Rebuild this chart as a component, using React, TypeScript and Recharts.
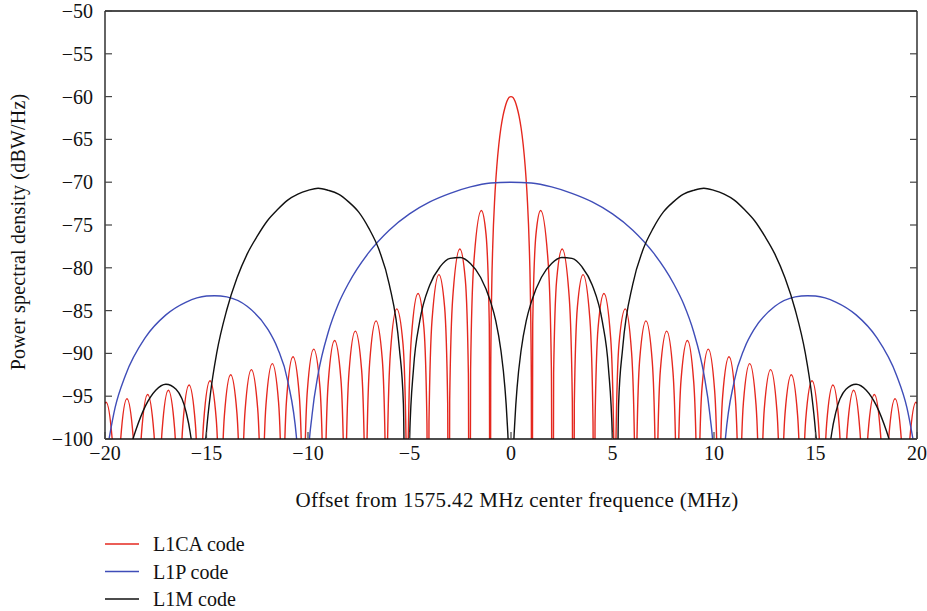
import { LineChart, Line, XAxis, YAxis } from 'recharts'

const X_TICKS = [-20, -15, -10, -5, 0, 5, 10, 15, 20]
const Y_TICKS = [-100, -95, -90, -85, -80, -75, -70, -65, -60, -55, -50]

// [offset MHz, dBW/Hz]. Nulls go below the frame and get clipped.
const L1CA: [number, number][] = [
  [-20.46, -140],
  [-20.41, -112.2], [-20.26, -100.5], [-19.95, -95.7], [-19.64, -100.2], [-19.49, -111.7], [-19.437, -140],
  [-19.38, -111.8], [-19.23, -100.1], [-18.92, -95.3], [-18.61, -99.8], [-18.46, -111.3], [-18.414, -140],
  [-18.36, -111.3], [-18.21, -99.6], [-17.9, -94.8], [-17.59, -99.3], [-17.44, -110.8], [-17.391, -140],
  [-17.34, -110.8], [-17.19, -99.1], [-16.88, -94.3], [-16.57, -98.8], [-16.42, -110.3], [-16.368, -140],
  [-16.32, -110.2], [-16.17, -98.5], [-15.86, -93.7], [-15.55, -98.2], [-15.4, -109.7], [-15.345, -140],
  [-15.29, -109.7], [-15.14, -98.0], [-14.83, -93.2], [-14.52, -97.7], [-14.37, -109.2], [-14.322, -140],
  [-14.27, -109.0], [-14.12, -97.3], [-13.81, -92.5], [-13.5, -97.0], [-13.35, -108.5], [-13.299, -140],
  [-13.25, -108.4], [-13.1, -96.7], [-12.79, -91.9], [-12.48, -96.4], [-12.33, -107.9], [-12.276, -140],
  [-12.22, -107.7], [-12.07, -96.0], [-11.76, -91.2], [-11.45, -95.7], [-11.3, -107.2], [-11.253, -140],
  [-11.2, -106.9], [-11.05, -95.2], [-10.74, -90.4], [-10.43, -94.9], [-10.28, -106.4], [-10.23, -140],
  [-10.18, -106.0], [-10.03, -94.3], [-9.72, -89.5], [-9.41, -94.0], [-9.26, -105.5], [-9.207, -140],
  [-9.15, -105.0], [-9.0, -93.3], [-8.69, -88.5], [-8.38, -93.0], [-8.23, -104.5], [-8.184, -140],
  [-8.13, -103.9], [-7.98, -92.2], [-7.67, -87.4], [-7.36, -91.9], [-7.21, -103.4], [-7.161, -140],
  [-7.11, -102.7], [-6.96, -91.0], [-6.65, -86.2], [-6.34, -90.7], [-6.19, -102.2], [-6.138, -140],
  [-6.09, -101.6], [-5.94, -89.9], [-5.63, -84.8], [-5.32, -88.9], [-5.17, -100.2], [-5.115, -140],
  [-5.06, -99.9], [-4.91, -88.2], [-4.58, -83.0], [-4.29, -87.0], [-4.14, -98.2], [-4.092, -140],
  [-4.04, -98.0], [-3.89, -86.1], [-3.55, -80.8], [-3.27, -84.6], [-3.12, -95.7], [-3.069, -140],
  [-3.02, -95.4], [-2.87, -83.5], [-2.52, -77.8], [-2.25, -81.4], [-2.1, -92.3], [-2.046, -140],
  [-1.99, -91.9], [-1.84, -79.7], [-1.46, -73.3], [-1.23, -76.1], [-1.07, -86.5], [-1.023, -140],
  [-1.0, -92.8], [-0.95, -82.4], [-0.9, -77.5], [-0.8, -71.8], [-0.7, -68.2], [-0.6, -65.6],
  [-0.5, -63.7], [-0.4, -62.3], [-0.3, -61.3], [-0.2, -60.55], [-0.1, -60.1], [0, -60],
  [0.1, -60.1], [0.2, -60.55], [0.3, -61.3], [0.4, -62.3], [0.5, -63.7], [0.6, -65.6],
  [0.7, -68.2], [0.8, -71.8], [0.9, -77.5], [0.95, -82.4], [1.0, -92.8],
  [1.023, -140], [1.07, -86.5], [1.23, -76.1], [1.46, -73.3], [1.84, -79.7], [1.99, -91.9],
  [2.046, -140], [2.1, -92.3], [2.25, -81.4], [2.52, -77.8], [2.87, -83.5], [3.02, -95.4],
  [3.069, -140], [3.12, -95.7], [3.27, -84.6], [3.55, -80.8], [3.89, -86.1], [4.04, -98.0],
  [4.092, -140], [4.14, -98.2], [4.29, -87.0], [4.58, -83.0], [4.91, -88.2], [5.06, -99.9],
  [5.115, -140], [5.17, -100.2], [5.32, -88.9], [5.63, -84.8], [5.94, -89.9], [6.09, -101.6],
  [6.138, -140], [6.19, -102.2], [6.34, -90.7], [6.65, -86.2], [6.96, -91.0], [7.11, -102.7],
  [7.161, -140], [7.21, -103.4], [7.36, -91.9], [7.67, -87.4], [7.98, -92.2], [8.13, -103.9],
  [8.184, -140], [8.23, -104.5], [8.38, -93.0], [8.69, -88.5], [9.0, -93.3], [9.15, -105.0],
  [9.207, -140], [9.26, -105.5], [9.41, -94.0], [9.72, -89.5], [10.03, -94.3], [10.18, -106.0],
  [10.23, -140], [10.28, -106.4], [10.43, -94.9], [10.74, -90.4], [11.05, -95.2], [11.2, -106.9],
  [11.253, -140], [11.3, -107.2], [11.45, -95.7], [11.76, -91.2], [12.07, -96.0], [12.22, -107.7],
  [12.276, -140], [12.33, -107.9], [12.48, -96.4], [12.79, -91.9], [13.1, -96.7], [13.25, -108.4],
  [13.299, -140], [13.35, -108.5], [13.5, -97.0], [13.81, -92.5], [14.12, -97.3], [14.27, -109.0],
  [14.322, -140], [14.37, -109.2], [14.52, -97.7], [14.83, -93.2], [15.14, -98.0], [15.29, -109.7],
  [15.345, -140], [15.4, -109.7], [15.55, -98.2], [15.86, -93.7], [16.17, -98.5], [16.32, -110.2],
  [16.368, -140], [16.42, -110.3], [16.57, -98.8], [16.88, -94.3], [17.19, -99.1], [17.34, -110.8],
  [17.391, -140], [17.44, -110.8], [17.59, -99.3], [17.9, -94.8], [18.21, -99.6], [18.36, -111.3],
  [18.414, -140], [18.46, -111.3], [18.61, -99.8], [18.92, -95.3], [19.23, -100.1], [19.38, -111.8],
  [19.437, -140], [19.49, -111.7], [19.64, -100.2], [19.95, -95.7], [20.26, -100.5], [20.41, -112.2],
  [20.46, -140],
]

const L1P: [number, number][] = [
  [-20, -102.8], [-19.5, -96.3], [-19, -92.6], [-18, -88.1], [-17, -85.5], [-16, -84.0],
  [-15, -83.3], [-14.6, -83.26], [-14, -83.4], [-13, -84.5], [-12, -87.1], [-11.5, -89.4],
  [-11, -93.2], [-10.5, -101.8], [-10.23, -140], [-10, -102.8], [-9.8, -97.2], [-9.5, -92.4],
  [-9, -87.5], [-8.5, -84.2], [-8, -81.8], [-7, -78.2], [-6, -75.6], [-5, -73.7], [-4, -72.3],
  [-3, -71.3], [-2, -70.55], [-1, -70.1], [0, -70],
  [1, -70.1], [2, -70.55], [3, -71.3], [4, -72.3], [5, -73.7], [6, -75.6], [7, -78.2],
  [8, -81.8], [8.5, -84.2], [9, -87.5], [9.5, -92.4], [9.8, -97.2], [10, -102.8], [10.23, -140],
  [10.5, -101.8], [11, -93.2], [11.5, -89.4], [12, -87.1], [13, -84.5], [14, -83.4], [14.6, -83.26],
  [15, -83.3], [16, -84.0], [17, -85.5], [18, -88.1], [19, -92.6], [19.5, -96.3], [20, -102.8],
]

const L1M: [number, number][] = [
  [-20, -123], [-19.5, -108], [-18.7, -100.6], [-18.5, -99.1], [-18, -96.1], [-17.5, -94.3],
  [-17, -93.6], [-16.5, -94.2], [-16, -96.9], [-15.8, -99.3], [-15.6, -103.7], [-15.345, -140],
  [-15.1, -102.4], [-15, -99.1], [-14.8, -94.6], [-14.5, -90.0], [-14, -84.9], [-13.5, -81.2],
  [-13, -78.4], [-12.5, -76.3], [-12, -74.5], [-11.5, -73.2], [-11, -72.1], [-10.5, -71.4],
  [-10, -70.96], [-9.5, -70.7], [-9, -70.95], [-8.5, -71.4], [-8, -72.3], [-7.5, -73.5],
  [-7, -75.4], [-6.5, -77.9], [-6, -81.9], [-5.5, -89.4], [-5.3, -95.9], [-5.115, -140],
  [-5, -100.3], [-4.8, -91.7], [-4.5, -86.3], [-4, -82.0], [-3.5, -79.9], [-3, -78.9],
  [-2.5, -78.8], [-2, -79.5], [-1.5, -81.1], [-1, -84.0], [-0.75, -86.2], [-0.5, -89.6],
  [-0.3, -94.0], [-0.2, -97.5], [-0.1, -103.5], [0, -140],
  [0.1, -103.5], [0.2, -97.5], [0.3, -94.0], [0.5, -89.6], [0.75, -86.2], [1, -84.0],
  [1.5, -81.1], [2, -79.5], [2.5, -78.8], [3, -78.9], [3.5, -79.9], [4, -82.0], [4.5, -86.3],
  [4.8, -91.7], [5, -100.3], [5.115, -140], [5.3, -95.9], [5.5, -89.4], [6, -81.9], [6.5, -77.9],
  [7, -75.4], [7.5, -73.5], [8, -72.3], [8.5, -71.4], [9, -70.95], [9.5, -70.7], [10, -70.96],
  [10.5, -71.4], [11, -72.1], [11.5, -73.2], [12, -74.5], [12.5, -76.3], [13, -78.4],
  [13.5, -81.2], [14, -84.9], [14.5, -90.0], [14.8, -94.6], [15, -99.1], [15.1, -102.4],
  [15.345, -140], [15.6, -103.7], [15.8, -99.3], [16, -96.9], [16.5, -94.2], [17, -93.6],
  [17.5, -94.3], [18, -96.1], [18.5, -99.1], [18.7, -100.6], [19.5, -108], [20, -123],
]

const SERIES = [
  { name: 'L1CA code', color: '#e5281f', points: L1CA },
  { name: 'L1P code', color: '#3f4db8', points: L1P },
  { name: 'L1M code', color: '#111111', points: L1M },
]

const FONT = 'Liberation Serif, DejaVu Serif, serif'
const TEXT_STYLE = { fontFamily: FONT, fontSize: 20 }
const toRows = (pts: [number, number][]) => pts.map(([x, y]) => ({ x, y }))
const fmt = (v: number) => (v < 0 ? `\u2212${-v}` : `${v}`)

function LeftTick({ x, y, payload }: any) {
  return (
    <g>
      <line x1={x} x2={x + 7} y1={y} y2={y} stroke="#444" strokeWidth={1.2} />
      <text x={x - 12} y={y + 7} textAnchor="end" style={TEXT_STYLE} fill="#111">
        {fmt(payload.value)}
      </text>
    </g>
  )
}

function RightTick({ x, y }: any) {
  return <line x1={x - 7} x2={x} y1={y} y2={y} stroke="#444" strokeWidth={1.2} />
}

function BottomTick({ x, y, payload }: any) {
  return (
    <g>
      <line x1={x} x2={x} y1={y - 7} y2={y} stroke="#444" strokeWidth={1.2} />
      <text x={x} y={y + 21} textAnchor="middle" style={TEXT_STYLE} fill="#111">
        {fmt(payload.value)}
      </text>
    </g>
  )
}

export default function App() {
  return (
    <div
      style={{ position: 'absolute', left: 0, top: 0, width: 927, height: 611, background: '#fff', fontFamily: FONT }}
    >
      <LineChart width={927} height={611} margin={{ top: 10, right: 0, bottom: 92, left: 0 }}>
        <XAxis
          dataKey="x"
          type="number"
          domain={[-20, 20]}
          ticks={X_TICKS}
          allowDataOverflow
          height={80}
          tickSize={0}
          tickMargin={0}
          tick={<BottomTick />}
          axisLine={{ stroke: '#111', strokeWidth: 1.3 }}
          label={({ viewBox }: any) => (
            <text
              x={viewBox.x + viewBox.width / 2 + 6}
              y={viewBox.y + 68}
              textAnchor="middle"
              style={{ ...TEXT_STYLE, fontSize: 21, letterSpacing: 0.35 }}
              fill="#111"
            >
              Offset from 1575.42 MHz center frequence (MHz)
            </text>
          )}
        />
        <XAxis
          xAxisId="top"
          orientation="top"
          dataKey="x"
          type="number"
          domain={[-20, 20]}
          allowDataOverflow
          height={1}
          tick={false}
          tickLine={false}
          axisLine={{ stroke: '#111', strokeWidth: 1.3 }}
        />
        <YAxis
          type="number"
          domain={[-100, -50]}
          ticks={Y_TICKS}
          allowDataOverflow
          width={105}
          tickSize={0}
          tickMargin={0}
          tick={<LeftTick />}
          axisLine={{ stroke: '#111', strokeWidth: 1.3 }}
          label={({ viewBox }: any) => {
            const cx = viewBox.x + 18
            const cy = viewBox.y + viewBox.height / 2 + 7
            return (
              <text
                x={cx}
                y={cy}
                transform={`rotate(-90 ${cx} ${cy})`}
                textAnchor="middle"
                dominantBaseline="central"
                style={{ ...TEXT_STYLE, letterSpacing: 0.2 }}
                fill="#111"
              >
                Power spectral density (dBW/Hz)
              </text>
            )
          }}
        />
        <YAxis
          yAxisId="right"
          orientation="right"
          type="number"
          domain={[-100, -50]}
          ticks={Y_TICKS}
          allowDataOverflow
          width={10}
          tickSize={0}
          tickMargin={0}
          tick={<RightTick />}
          axisLine={{ stroke: '#111', strokeWidth: 1.3 }}
        />
        {SERIES.map((s) => (
          <Line
            key={s.name}
            data={toRows(s.points)}
            dataKey="y"
            name={s.name}
            type="monotone"
            stroke={s.color}
            strokeWidth={1.4}
            dot={false}
            activeDot={false}
            isAnimationActive={false}
          />
        ))}
      </LineChart>
      <svg width={300} height={80} style={{ position: 'absolute', left: 0, top: 531 }}>
        {SERIES.map((s, i) => (
          <g key={s.name}>
            <line x1={105} x2={139} y1={13 + i * 27.5} y2={13 + i * 27.5} stroke={s.color} strokeWidth={1.3} />
            <text x={153} y={20 + i * 27.5} style={TEXT_STYLE} fill="#111">
              {s.name}
            </text>
          </g>
        ))}
      </svg>
    </div>
  )
}
